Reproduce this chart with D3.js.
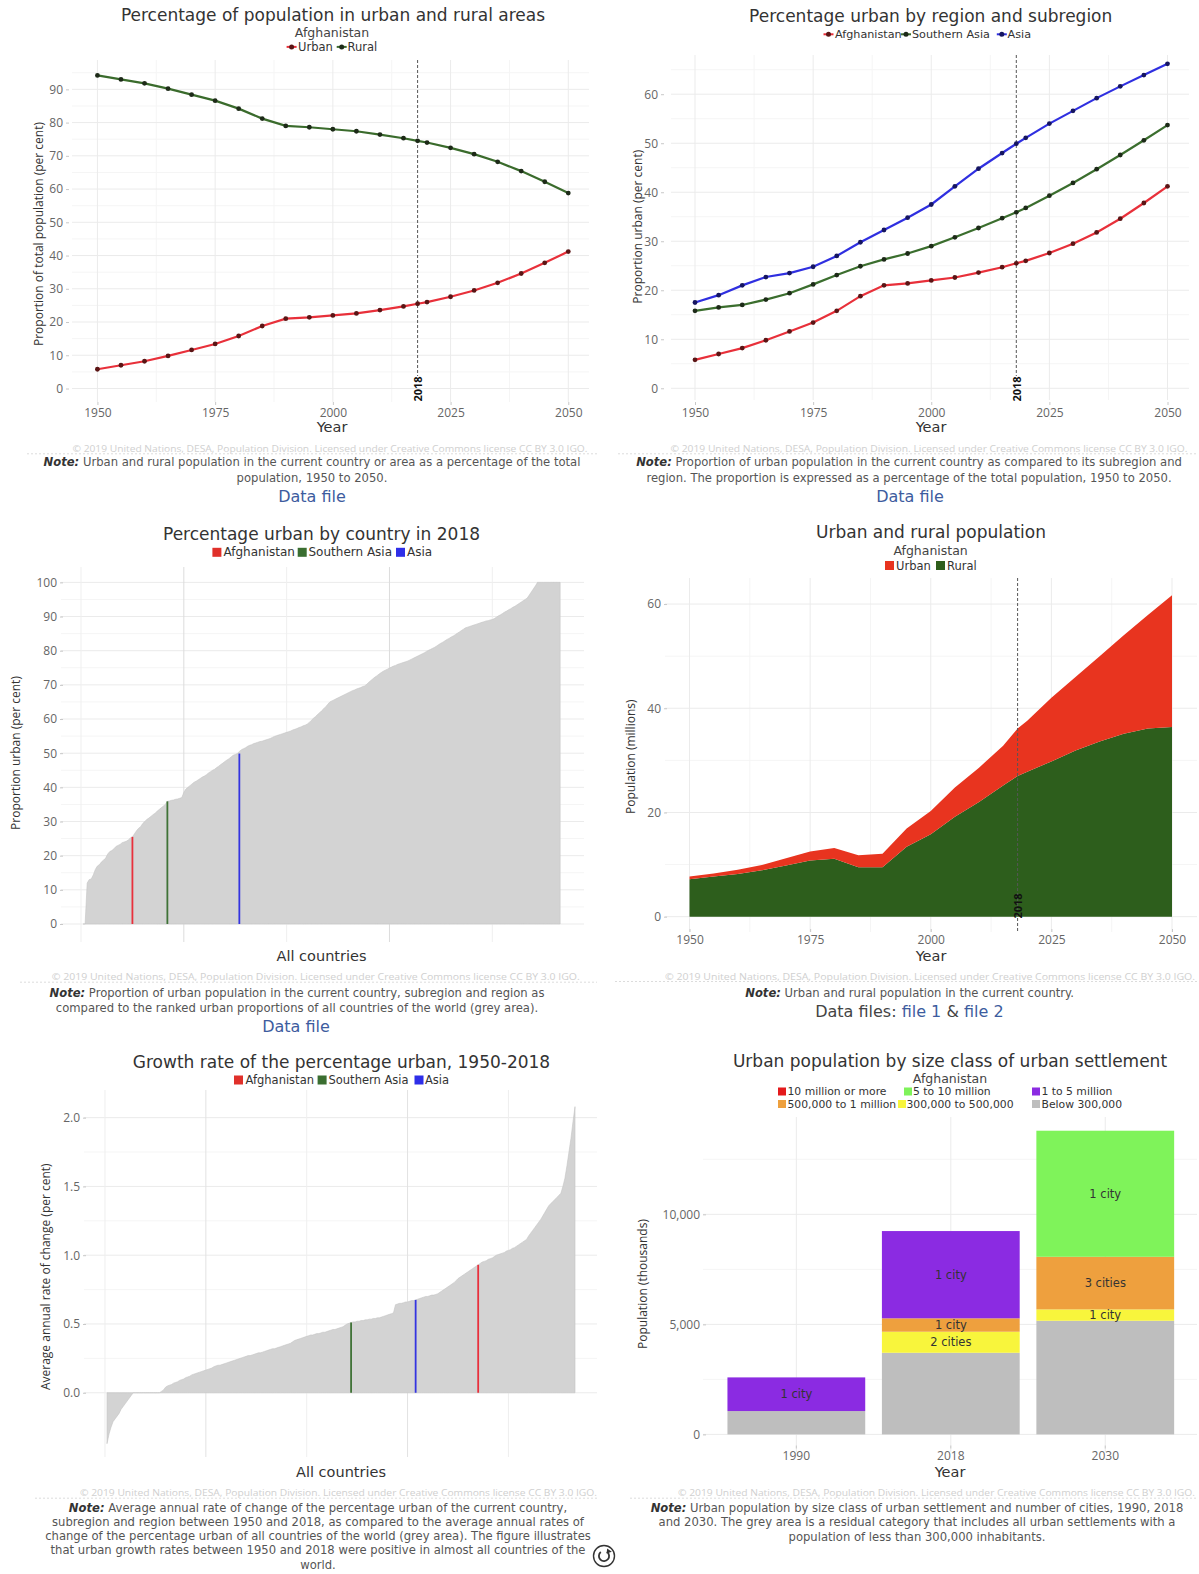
<!DOCTYPE html>
<html><head><meta charset="utf-8">
<script src="https://cdn.jsdelivr.net/npm/d3@7/dist/d3.min.js"></script>
<style>html,body{margin:0;padding:0;background:#fff}svg{display:block}</style>
</head><body>
<svg id="chart" width="1199" height="1574"></svg>
<script>
// ---------------- DATA ----------------
const years = [1950,1955,1960,1965,1970,1975,1980,1985,1990,1995,2000,2005,2010,2015,2018,2020,2025,2030,2035,2040,2045,2050];
const urbanPct = [5.8,7.0,8.2,9.8,11.6,13.4,15.8,18.8,21.0,21.4,22.0,22.6,23.6,24.7,25.5,26.0,27.6,29.5,31.8,34.6,37.8,41.2];
const ruralPct = [94.2,93.0,91.8,90.2,88.4,86.6,84.2,81.2,79.0,78.6,78.0,77.4,76.4,75.3,74.5,74.0,72.4,70.5,68.2,65.4,62.2,58.8];
const southernAsiaPct = [15.8,16.5,17.0,18.1,19.4,21.2,23.1,24.9,26.3,27.5,29.0,30.8,32.7,34.7,35.9,36.8,39.3,41.9,44.7,47.6,50.6,53.7];
const asiaPct = [17.5,19.0,21.0,22.7,23.5,24.8,27.0,29.8,32.3,34.8,37.5,41.2,44.8,48.0,49.9,51.1,54.0,56.6,59.2,61.6,63.9,66.2];
const urbanPopM = [0.5,0.6,0.8,1.0,1.4,1.7,2.1,2.3,2.6,3.5,4.5,5.6,6.6,7.6,9.1,9.8,12.2,14.1,16.4,18.9,21.8,25.3];
const ruralPopM = [7.2,7.7,8.2,8.9,9.8,10.8,11.1,9.5,9.5,13.4,15.8,19.2,22.0,25.2,27.0,27.8,29.8,31.9,33.6,35.1,36.1,36.4];

const highlightNames = ["Afghanistan","Southern Asia","Asia"];
// ranked percentage urban 2018, all countries (sorted)
const rankedUrbanPct2018 = [
0.0,0.0,12.0,13.0,13.2,14.4,16.0,17.0,17.4,18.2,18.7,19.3,20.5,21.2,21.5,22.0,22.7,23.0,23.3,23.8,
24.0,24.2,24.6,25.2,25.5,26.4,27.3,28.0,28.5,29.4,30.0,30.6,31.0,31.5,32.0,32.4,33.0,33.5,34.0,34.5,
35.0,35.9,36.0,36.2,36.3,36.5,36.6,36.8,37.0,38.5,39.5,
40.0,40.5,41.0,41.5,41.8,42.2,42.6,43.0,43.3,43.7,44.2,44.6,45.0,45.3,45.8,46.2,46.7,47.1,47.6,48.0,48.4,48.9,49.4,49.6,49.9,
50.5,51.0,51.3,51.6,52.0,52.3,52.5,52.8,53.0,53.2,53.4,53.5,53.7,53.9,54.1,
54.3,54.6,54.9,55.1,55.3,55.5,55.7,55.9,56.1,56.3,56.5,
56.8,57.0,57.2,57.5,57.7,58.0,58.2,58.5,
59.0,59.6,60.2,60.7,61.3,61.8,62.4,63.0,63.6,64.3,65.0,
65.3,65.6,65.9,66.2,66.5,66.8,67.1,67.4,67.7,68.0,68.3,68.5,68.8,69.0,69.2,69.5,69.7,
70.2,70.8,71.3,71.8,72.3,72.7,73.2,73.6,74.0,74.3,74.6,
74.9,75.2,75.5,75.7,76.0,76.2,76.4,76.6,76.8,77.0,
77.3,77.6,77.9,78.2,78.5,78.8,79.1,79.4,79.8,80.1,80.4,
80.7,81.0,81.4,81.8,82.2,82.5,82.9,83.3,83.6,84.0,84.3,
84.7,85.1,85.5,85.9,86.3,86.7,
86.9,87.1,87.3,87.5,87.7,87.9,88.1,88.3,88.5,88.7,88.8,89.0,89.1,
89.4,89.8,90.2,90.5,90.9,91.3,91.6,92.0,92.3,92.7,93.0,
93.4,93.8,94.2,94.6,95.0,95.4,
96.3,97.2,98.1,99.0,100,
100,100,100,100,100,100,100,100,100,100,100];
const highlightRank2018 = [25,42,77];
const highlightPct2018 = [25.5,35.9,49.9];

// ranked growth rate of percentage urban 1950-2018 (sorted)
const rankedGrowth = [
-0.37,-0.30,-0.25,-0.21,-0.19,-0.17,-0.15,-0.12,-0.10,-0.08,-0.06,-0.04,-0.02,0.00,
0,0,0,0,0,0,0,0,0,0,0,0,0,
0.01,0.02,0.04,
0.05,0.055,0.06,0.07,0.075,0.08,0.09,0.095,0.10,0.11,0.115,0.12,0.13,
0.135,0.14,0.145,0.15,0.155,0.16,0.165,0.17,0.175,0.18,0.19,
0.195,0.2,0.2,0.205,0.21,0.215,0.22,0.225,0.23,0.235,0.24,
0.245,0.25,0.255,0.26,0.265,0.27,0.27,0.275,0.28,0.285,0.29,0.29,0.295,0.3,0.305,0.31,
0.315,0.32,0.32,0.325,0.33,0.335,0.34,0.345,0.35,0.355,0.36,
0.37,0.38,0.385,0.39,0.395,0.40,0.405,0.41,
0.415,0.42,0.42,0.425,0.43,0.43,0.435,0.44,0.44,
0.445,0.45,0.455,0.46,0.46,0.465,0.47,0.475,0.48,
0.49,0.50,0.505,0.51,
0.515,0.515,0.52,0.52,0.525,0.525,0.53,0.53,0.535,0.535,0.54,0.54,0.545,0.545,0.55,
0.555,0.56,0.565,0.57,0.575,0.58,
0.64,0.645,0.65,0.65,0.655,0.66,0.66,0.665,0.67,0.67,0.675,
0.68,0.685,0.69,0.695,0.70,0.70,0.705,0.71,0.71,0.715,0.72,
0.73,0.74,0.75,0.76,0.77,0.78,0.79,0.80,0.815,0.83,
0.84,0.85,0.86,0.87,0.88,0.89,0.90,0.91,0.92,0.93,
0.94,0.95,0.955,0.96,0.97,0.975,0.98,0.99,1.0,
1.005,1.01,1.015,1.02,1.03,1.035,1.04,1.05,1.055,
1.065,1.075,1.085,1.095,1.105,1.115,
1.14,1.16,1.18,1.20,1.22,1.24,
1.26,1.285,1.31,1.335,1.36,
1.375,1.39,1.405,1.42,1.435,1.45,
1.50,1.56,1.65,1.75,1.85,1.97,2.08];
const highlightRankGrowth = [185,122,154];
const highlightGrowth = [0.93,0.51,0.675];

const sizeYears = ["1990","2018","2030"];
const sizeClassNames = ["10 million or more","5 to 10 million","1 to 5 million","500,000 to 1 million","300,000 to 500,000","Below 300,000"];
const pop10mPlus   = [0,0,0];
const pop5to10m    = [0,0,5730];
const pop1to5m     = [1530,3965,0];
const pop500kto1m  = [0,610,2390];
const pop300to500k = [0,955,515];
const popBelow300k = [1060,3710,5165];
const cities10mPlus   = [0,0,0];
const cities5to10m    = [0,0,1];
const cities1to5m     = [1,1,0];
const cities500kto1m  = [0,1,3];
const cities300to500k = [0,2,1];

const pctTicks = [0,10,20,30,40,50,60,70,80,90];
const yearTicks = [1950,1975,2000,2025,2050];

// ---------------- HELPERS ----------------
const SANS = '"Open Sans","Liberation Sans",Arial,sans-serif';
const VERD = '"DejaVu Sans",Verdana,sans-serif';
const svg = d3.select("#chart");
const GREEN="#3b6e2e", BLUE="#2f2fe0";

function txt(x,y,s,o={}){
  const t=svg.append("text").attr("x",x).attr("y",y)
    .attr("font-family",o.family||VERD).attr("font-size",o.size||12)
    .attr("fill",o.fill||"#333").attr("text-anchor",o.anchor||"middle")
    .attr("dominant-baseline","central").text(s);
  if(o.weight) t.attr("font-weight",o.weight);
  if(o.rotate!=null) t.attr("transform",`rotate(${o.rotate},${x},${y})`);
  if(o.len) t.attr("textLength",o.len).attr("lengthAdjust","spacingAndGlyphs");
  return t;
}
function hLines(box,y,vals,col){
  svg.append("g").selectAll("line").data(vals).join("line")
    .attr("x1",box.l).attr("x2",box.r).attr("y1",d=>y(d)).attr("y2",d=>y(d))
    .attr("stroke",col).attr("stroke-width",1);
}
function vLines(box,xf,vals,col){
  svg.append("g").selectAll("line").data(vals).join("line")
    .attr("y1",box.t).attr("y2",box.b).attr("x1",d=>xf(d)).attr("x2",d=>xf(d))
    .attr("stroke",col).attr("stroke-width",1);
}
function styleAxis(g){
  g.select(".domain").remove();
  g.selectAll(".tick line").attr("stroke","#c8c8c8");
  g.selectAll(".tick text").attr("font-family",SANS).attr("font-size",12).attr("fill","#666");
}
function yAxis(scale,ax,vals,fmt){
  const g=svg.append("g").attr("transform",`translate(${ax},0)`)
    .call(d3.axisLeft(scale).tickValues(vals).tickFormat(fmt).tickSize(3).tickPadding(3));
  styleAxis(g);
}
function xAxis(scale,ay,vals,fmt){
  const ax=d3.axisBottom(scale).tickSize(3).tickPadding(3);
  if(vals) ax.tickValues(vals);
  if(fmt) ax.tickFormat(fmt);
  const g=svg.append("g").attr("transform",`translate(0,${ay})`).call(ax);
  styleAxis(g);
}
function lineLegend(items,y,size){
  items.forEach(it=>{
    svg.append("line").attr("x1",it.x-5).attr("x2",it.x+5).attr("y1",y).attr("y2",y).attr("stroke",it.color).attr("stroke-width",2);
    svg.append("circle").attr("cx",it.x).attr("cy",y).attr("r",2.5).attr("fill",it.mk);
    txt(it.tx,y,it.label,{anchor:"start",size:size||11.5});
  });
}
function sqLegend(items,y,size,sq){
  const s=sq||9;
  items.forEach(it=>{
    svg.append("rect").attr("x",it.x).attr("y",y-s/2).attr("width",s).attr("height",s).attr("fill",it.color);
    txt(it.tx,y,it.label,{anchor:"start",size:size||12});
  });
}
function copyright(xEnd,y,len,sepX0,sepX1){
  txt(xEnd,y,"© 2019 United Nations, DESA, Population Division. Licensed under Creative Commons license CC BY 3.0 IGO.",{family:SANS,anchor:"end",size:8.5,fill:"#d0d0d0",len:len});
  svg.append("line").attr("x1",sepX0).attr("x2",sepX1).attr("y1",y+5.5).attr("y2",y+5.5)
    .attr("stroke","#dcdcdc").attr("stroke-dasharray","2,2");
}
function note(cx,ys,lines){
  lines.forEach((l,i)=>{
    const t=txt(cx,ys[i],"",{size:11.6,fill:"#555"});
    if(i===0){
      t.append("tspan").attr("font-weight","bold").attr("font-style","italic").attr("fill","#333").text("Note:");
      t.append("tspan").text(" "+l);
    } else t.text(l);
  });
}
function dataLink(cx,y,parts){
  const t=txt(cx,y,"",{size:16});
  parts.forEach(p=>t.append("tspan").attr("fill",p[1]).text(p[0]));
}
function marker2018(xs,yTop,yLineEnd,yLabel){
  svg.append("line").attr("x1",xs).attr("x2",xs).attr("y1",yTop).attr("y2",yLineEnd)
    .attr("stroke","#555").attr("stroke-width",1).attr("stroke-dasharray","3,2");
  txt(xs,yLabel,"2018",{family:SANS,size:11,weight:"bold",fill:"#111",rotate:-90});
}
function seriesLine(x,y,vals,color,mk){
  const pts=years.map((yr,i)=>[yr,vals[i]]);
  svg.append("path").datum(pts).attr("fill","none").attr("stroke",color).attr("stroke-width",2.2)
    .attr("d",d3.line().x(d=>x(d[0])).y(d=>y(d[1])));
  svg.append("g").selectAll("circle").data(pts).join("circle")
    .attr("cx",d=>x(d[0])).attr("cy",d=>y(d[1])).attr("r",2.4).attr("fill",mk);
}
function title(cx,y,s){ txt(cx,y,s,{size:17,fill:"#333"}); }
function subtitle(cx,y,s){ txt(cx,y,s,{size:12.5,fill:"#444"}); }
function yTitle(x,y,s){ txt(x,y,s,{family:SANS,size:12,rotate:-90}); }
function xTitle(x,y,s){ txt(x,y,s,{size:14.5,fill:"#333"}); }

// ---------------- PANEL 1 ----------------
{
  const box={l:72,r:589,t:60,b:402};
  const x=d3.scaleLinear().domain([1944.6,2054.4]).range([box.l,box.r]);
  const y=d3.scaleLinear().domain([-4.06,98.83]).range([box.b,box.t]);
  hLines(box,y,d3.range(5,100,10),"#f5f5f5");
  vLines(box,x,[1962.5,1987.5,2012.5,2037.5],"#f5f5f5");
  hLines(box,y,pctTicks,"#ebebeb");
  vLines(box,x,yearTicks,"#ebebeb");
  yAxis(y,69,pctTicks,d3.format("d"));
  xAxis(x,402,yearTicks,d3.format("d"));
  marker2018(x(2018),box.t,376,389);
  seriesLine(x,y,ruralPct,"#3a6b2c","#1d2a18");
  seriesLine(x,y,urbanPct,"#e8303a","#5a1515");
  title(333,15,"Percentage of population in urban and rural areas");
  subtitle(332,32.3,"Afghanistan");
  lineLegend([{x:291.6,tx:298,label:"Urban",color:"#e8303a",mk:"#5a1515"},
              {x:341.7,tx:347.5,label:"Rural",color:"#3a6b2c",mk:"#1d2a18"}],46.9);
  yTitle(38.3,234,"Proportion of total population (per cent)");
  xTitle(332,427.3,"Year");
  copyright(587.5,448.3,515,27,597);
  note(312,[462.3,477.7],["Urban and rural population in the current country or area as a percentage of the total","population, 1950 to 2050."]);
  dataLink(312,495.7,[["Data file","#3d5c9e"]]);
}

// ---------------- PANEL 2 ----------------
{
  const box={l:671,r:1189,t:55,b:400};
  const x=d3.scaleLinear().domain([1944.92,2054.55]).range([box.l,box.r]);
  const y=d3.scaleLinear().domain([-2.39,68.0]).range([box.b,box.t]);
  const ticks=[0,10,20,30,40,50,60];
  hLines(box,y,[5,15,25,35,45,55,65],"#f5f5f5");
  vLines(box,x,[1962.5,1987.5,2012.5,2037.5],"#f5f5f5");
  hLines(box,y,ticks,"#ebebeb");
  vLines(box,x,yearTicks,"#ebebeb");
  yAxis(y,664,ticks,d3.format("d"));
  xAxis(x,402,yearTicks,d3.format("d"));
  marker2018(x(2018),box.t,376,389);
  seriesLine(x,y,asiaPct,BLUE,"#151560");
  seriesLine(x,y,southernAsiaPct,GREEN,"#1d2a18");
  seriesLine(x,y,urbanPct,"#e8303a","#5a1515");
  title(930.7,16,"Percentage urban by region and subregion");
  lineLegend([{x:828.5,tx:835,label:"Afghanistan",color:"#e8303a",mk:"#5a1515"},
              {x:906,tx:912,label:"Southern Asia",color:GREEN,mk:"#1d2a18"},
              {x:1001.8,tx:1007.6,label:"Asia",color:BLUE,mk:"#151560"}],34.3,11.2);
  yTitle(638,226.7,"Proportion urban (per cent)");
  xTitle(931,426.7,"Year");
  copyright(1187.5,448.3,517,618,1197);
  note(909,[462.3,477.7],["Proportion of urban population in the current country as compared to its subregion and","region. The proportion is expressed as a percentage of the total population, 1950 to 2050."]);
  dataLink(910,495.7,[["Data file","#3d5c9e"]]);
}

// ---------------- PANEL 3 ----------------
{
  const box={l:61,r:584,t:567,b:942};
  const x=d3.scaleLinear().domain([-9.73,244.6]).range([box.l,box.r]);
  const y=d3.scaleLinear().domain([-5.27,104.5]).range([box.b,box.t]);
  const ticks=d3.range(0,101,10);
  hLines(box,y,d3.range(5,101,10),"#f5f5f5");
  hLines(box,y,ticks,"#ebebeb");
  vLines(box,x,[0,100,200],"#efefef");
  vLines(box,x,[50,150],"#dcdcdc");
  yAxis(y,63,ticks,d3.format("d"));
  const pts=rankedUrbanPct2018.map((v,i)=>[i+1,v]);
  svg.append("path").datum(pts).attr("fill","#d3d3d3").attr("stroke","#c4c4c4").attr("stroke-width",0.6)
    .attr("d",d3.area().x(d=>x(d[0])).y0(y(0)).y1(d=>y(d[1])));
  const cols=["#e8303c","#3f7236","#3434e0"];
  highlightRank2018.forEach((r,i)=>{
    svg.append("line").attr("x1",x(r)).attr("x2",x(r)).attr("y1",y(0)).attr("y2",y(highlightPct2018[i]))
      .attr("stroke",cols[i]).attr("stroke-width",1.8);
  });
  title(321.5,534,"Percentage urban by country in 2018");
  sqLegend([{x:212.4,tx:223.5,label:"Afghanistan",color:"#e0302a"},
            {x:297.7,tx:308.5,label:"Southern Asia",color:"#3a6e30"},
            {x:396,tx:407,label:"Asia",color:"#2e2ee8"}],552.3,12);
  yTitle(15.3,753,"Proportion urban (per cent)");
  xTitle(321.5,955.7,"All countries");
  copyright(579.8,976.7,528,20,597);
  note(297,[992.7,1008.3],["Proportion of urban population in the current country, subregion and region as","compared to the ranked urban proportions of all countries of the world (grey area)."]);
  dataLink(296,1026,[["Data file","#3d5c9e"]]);
}

// ---------------- PANEL 4 ----------------
{
  const box={l:665,r:1197,t:578,b:932};
  const x=d3.scaleLinear().domain([1944.92,2055.18]).range([box.l,box.r]);
  const y=d3.scaleLinear().domain([-2.94,65.0]).range([box.b,box.t]);
  const ticks=[0,20,40,60];
  hLines(box,y,[10,30,50],"#f5f5f5");
  vLines(box,x,[1962.5,1987.5,2012.5,2037.5],"#f5f5f5");
  hLines(box,y,ticks,"#ebebeb");
  vLines(box,x,yearTicks,"#ebebeb");
  yAxis(y,667,ticks,d3.format("d"));
  xAxis(x,929,yearTicks,d3.format("d"));
  const rows=years.map((yr,i)=>({year:yr,rural:ruralPopM[i],urban:urbanPopM[i]}));
  const stack=d3.stack().keys(["rural","urban"])(rows);
  const colors={rural:"#2d5e1c",urban:"#e8341f"};
  svg.append("g").selectAll("path").data(stack).join("path")
    .attr("fill",d=>colors[d.key])
    .attr("d",d3.area().x(d=>x(d.data.year)).y0(d=>y(d[0])).y1(d=>y(d[1])));
  marker2018(x(2018),box.t,box.b,906);
  title(931,531.5,"Urban and rural population");
  subtitle(930.6,550,"Afghanistan");
  sqLegend([{x:885,tx:896,label:"Urban",color:"#e8341f"},
            {x:936,tx:947,label:"Rural",color:"#2d5e1c"}],565.5,11.5);
  yTitle(630.6,756.7,"Population (millions)");
  xTitle(931,955.7,"Year");
  copyright(1195,976,530,615,1197);
  note(909.6,[992.7],["Urban and rural population in the current country."]);
  dataLink(909.4,1010.7,[["Data files: ","#444"],["file 1","#3d5c9e"],[" & ","#444"],["file 2","#3d5c9e"]]);
}

// ---------------- PANEL 5 ----------------
{
  const box={l:84,r:597,t:1090,b:1457};
  const x=d3.scaleLinear().domain([-10.4,243.9]).range([box.l,box.r]);
  const y=d3.scaleLinear().domain([-0.467,2.201]).range([box.b,box.t]);
  const ticks=[0,0.5,1.0,1.5,2.0];
  hLines(box,y,[0.25,0.75,1.25,1.75],"#f5f5f5");
  hLines(box,y,ticks,"#ebebeb");
  vLines(box,x,[0,100,200],"#efefef");
  vLines(box,x,[50,150],"#e2e2e2");
  yAxis(y,86,ticks,d3.format(".1f"));
  const pts=rankedGrowth.map((v,i)=>[i+1,v]);
  svg.append("path").datum(pts).attr("fill","#d3d3d3").attr("stroke","#c4c4c4").attr("stroke-width",0.6)
    .attr("d",d3.area().x(d=>x(d[0])).y0(y(0)).y1(d=>y(d[1])));
  const cols=["#e8303c","#3f7236","#3434e0"];
  highlightRankGrowth.forEach((r,i)=>{
    svg.append("line").attr("x1",x(r)).attr("x2",x(r)).attr("y1",y(0)).attr("y2",y(highlightGrowth[i]))
      .attr("stroke",cols[i]).attr("stroke-width",1.8);
  });
  title(341.5,1062,"Growth rate of the percentage urban, 1950-2018");
  sqLegend([{x:234,tx:245.5,label:"Afghanistan",color:"#e0302a"},
            {x:317.6,tx:328.5,label:"Southern Asia",color:"#3a6e30"},
            {x:414.5,tx:425,label:"Asia",color:"#2e2ee8"}],1080,11.5);
  yTitle(45.2,1276.7,"Average annual rate of change (per cent)");
  xTitle(341,1472.3,"All countries");
  copyright(597,1492.7,517,35,597);
  note(318,[1507.7,1521.7,1535.7,1550,1565.2],[
    "Average annual rate of change of the percentage urban of the current country,",
    "subregion and region between 1950 and 2018, as compared to the average annual rates of",
    "change of the percentage urban of all countries of the world (grey area). The figure illustrates",
    "that urban growth rates between 1950 and 2018 were positive in almost all countries of the",
    "world."]);
}

// ---------------- PANEL 6 ----------------
{
  const box={l:703,r:1197,t:1117,b:1452};
  const x=d3.scaleBand().domain(sizeYears).range([712,1189.6]).paddingInner(0.108).paddingOuter(0.1);
  const y=d3.scaleLinear().domain([-800,14423]).range([box.b,box.t]);
  const ticks=[0,5000,10000];
  hLines(box,y,[2500,7500,12500],"#f5f5f5");
  hLines(box,y,ticks,"#ebebeb");
  vLines(box,d=>x(d)+x.bandwidth()/2,sizeYears,"#ebebeb");
  yAxis(y,706,ticks,d3.format(","));
  xAxis(x,1445.5,null,null);
  const keys=["below","c300","c500","c1m","c5m","c10m"];
  const colorMap={c10m:"#e41a1c",c5m:"#7ff35a",c1m:"#8b2be2",c500:"#eea03e",c300:"#f8f53c",below:"#bebebe"};
  const cityMap={c10m:cities10mPlus,c5m:cities5to10m,c1m:cities1to5m,c500:cities500kto1m,c300:cities300to500k};
  const rows=sizeYears.map((yr,i)=>({year:yr,below:popBelow300k[i],c300:pop300to500k[i],c500:pop500kto1m[i],c1m:pop1to5m[i],c5m:pop5to10m[i],c10m:pop10mPlus[i],idx:i}));
  const stack=d3.stack().keys(keys)(rows);
  const g=svg.append("g");
  stack.forEach(layer=>{
    g.append("g").selectAll("rect").data(layer.filter(d=>d[1]-d[0]>0)).join("rect")
      .attr("x",d=>x(d.data.year)).attr("width",x.bandwidth())
      .attr("y",d=>y(d[1])).attr("height",d=>y(d[0])-y(d[1]))
      .attr("fill",colorMap[layer.key]);
  });
  stack.forEach(layer=>{
    if(!cityMap[layer.key]) return;
    layer.forEach(d=>{
      const n=cityMap[layer.key][d.data.idx];
      if(n>0) txt(x(d.data.year)+x.bandwidth()/2,y((d[0]+d[1])/2),n===1?"1 city":n+" cities",{size:11.5,fill:"#333"});
    });
  });
  title(950,1060.5,"Urban population by size class of urban settlement");
  subtitle(950,1078,"Afghanistan");
  sqLegend([{x:778,tx:787.5,label:sizeClassNames[0],color:colorMap.c10m},
            {x:904,tx:913,label:sizeClassNames[1],color:colorMap.c5m},
            {x:1032,tx:1041.5,label:sizeClassNames[2],color:colorMap.c1m}],1091.5,10.8,8);
  sqLegend([{x:778,tx:787.5,label:sizeClassNames[3],color:colorMap.c500},
            {x:898,tx:906.5,label:sizeClassNames[4],color:colorMap.c300},
            {x:1032,tx:1041.5,label:sizeClassNames[5],color:colorMap.below}],1104,10.8,8);
  yTitle(642,1284,"Population (thousands)");
  xTitle(950,1472.3,"Year");
  copyright(1195,1492.7,517,630,1197);
  note(917,[1507.7,1521.7,1537.3],[
    "Urban population by size class of urban settlement and number of cities, 1990, 2018",
    "and 2030. The grey area is a residual category that includes all urban settlements with a",
    "population of less than 300,000 inhabitants."]);
}

// refresh icon
{
  const cx=604, cy=1556;
  svg.append("circle").attr("cx",cx).attr("cy",cy).attr("r",10.5).attr("fill","#fff").attr("stroke","#333").attr("stroke-width",1.4);
  svg.append("path").attr("transform",`translate(${cx},${cy})`)
    .attr("d",d3.arc().innerRadius(4.2).outerRadius(6)({startAngle:0.6,endAngle:5.6})).attr("fill","#333");
  svg.append("path").attr("transform",`translate(${cx},${cy})`).attr("d","M3.2,-7.5 L7.8,-4.2 L2.6,-2.6 Z").attr("fill","#333");
}
</script>
</body></html>
